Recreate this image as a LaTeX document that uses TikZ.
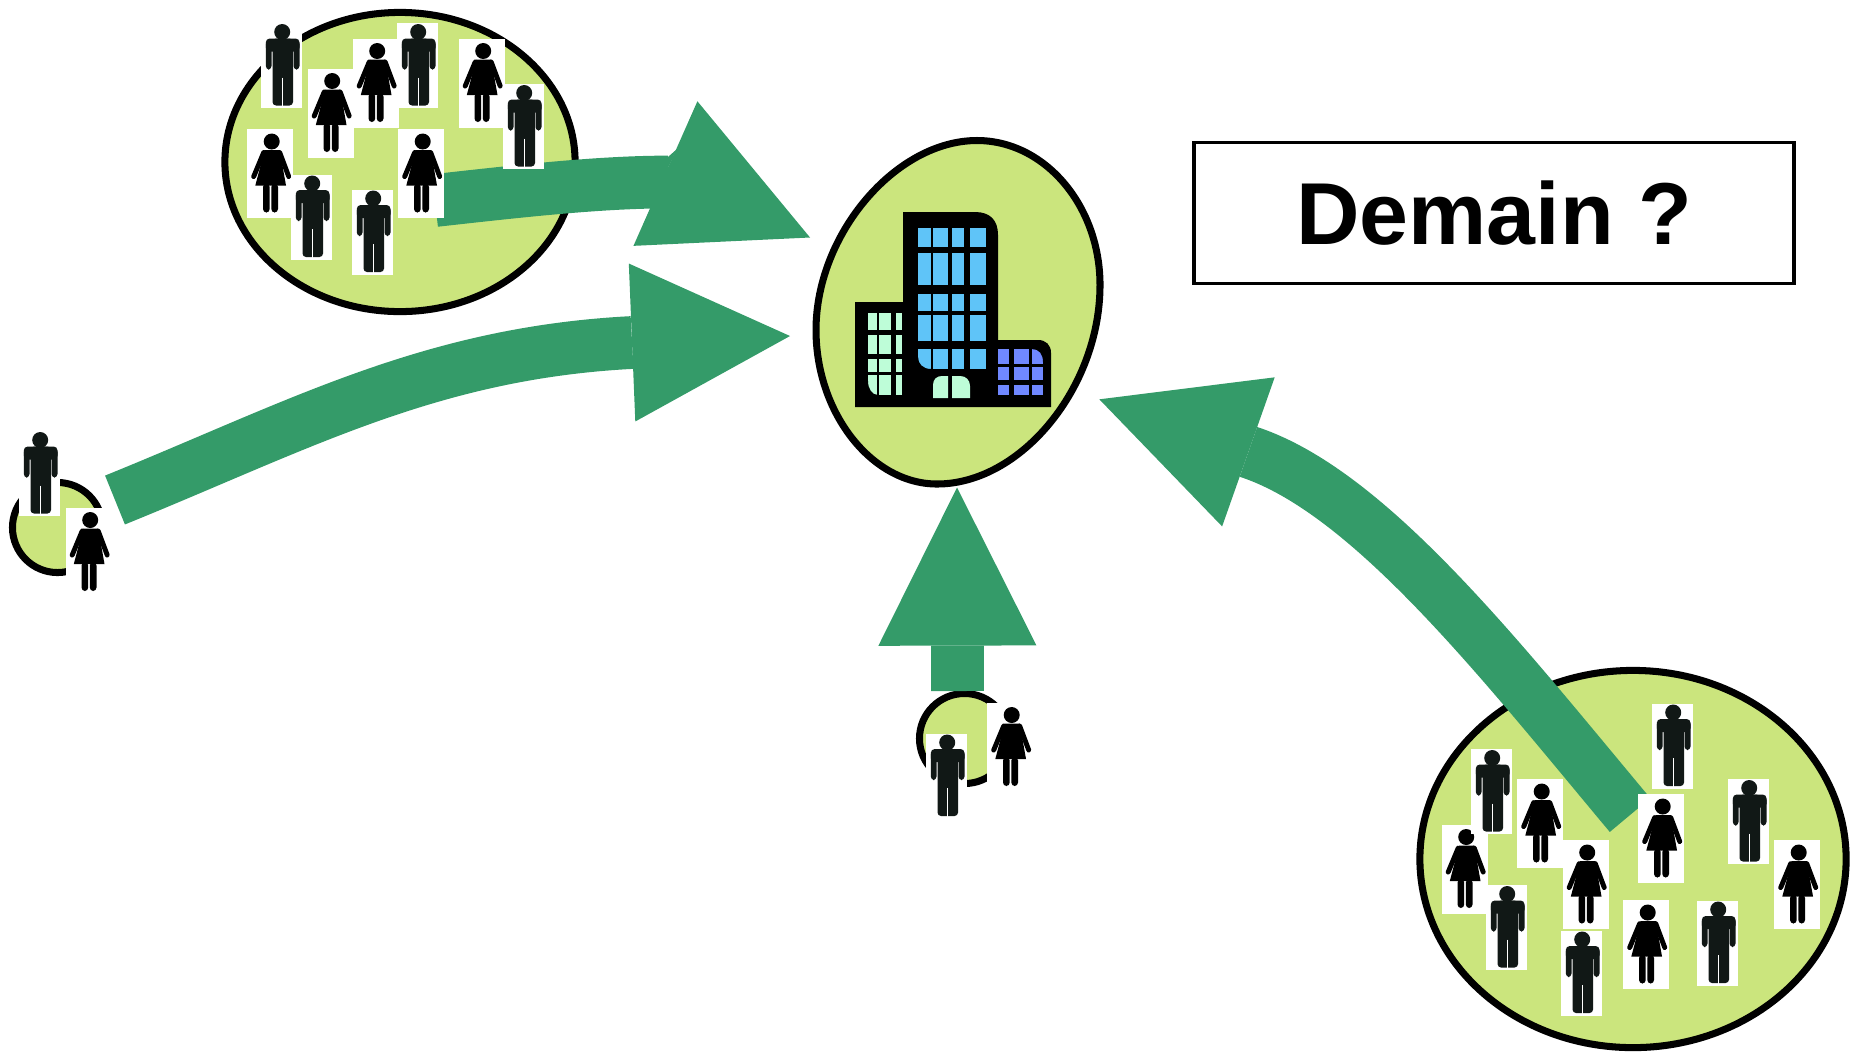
\documentclass[tikz,border=0pt]{standalone}
\usepackage{fontspec}
\setmainfont{Liberation Sans}
\usetikzlibrary{arrows.meta,calc,shapes.geometric}

\definecolor{grouplime}{RGB}{203,229,125}
\definecolor{flowgreen}{RGB}{52,155,105}
\definecolor{towerblue}{RGB}{95,196,248}
\definecolor{wingmint}{RGB}{190,253,216}
\definecolor{wingviolet}{RGB}{112,136,255}
\definecolor{mandark}{RGB}{17,24,22}

\tikzset{
  groupline/.style={draw=black,fill=grouplime,line width=2pt},
  groupnode/.style={groupline,ellipse,inner sep=0pt},
  flowarrow/.style={draw=flowgreen,line width=15pt,line join=bevel,-{Triangle[length=1.58cm,width=1.58cm,line width=0pt]}},
  manfig/.pic={
    \fill[white] (-20.5,-42.5) rectangle (20.5,42.5);
    \fill[mandark] (0.7,-33.5) circle [radius=8];
    \fill[mandark,rounded corners=1.1pt] (-15.7,-27) rectangle (18,-14);
    \fill[mandark,rounded corners=1pt] (-15.7,-25) rectangle (-10,4);
    \fill[mandark,rounded corners=1pt] (12,-25) rectangle (18,4);
    \fill[mandark,rounded corners=1pt] (-9,-27) rectangle (11.5,40);
    \draw[white,line width=0.35pt] (1.2,12) -- (1.2,41);
  },
  womanfig/.pic={
    \fill[white] (-23,-44.5) rectangle (23,44.5);
    \fill[black] (1.7,-32) circle [radius=8];
    \fill[black] (-5.3,-23.5) -- (9.7,-23.5) -- (16,12) -- (-14.7,12) -- cycle;
    \draw[black,line width=1.4pt,line cap=round] (-6.3,-21) -- (-16.3,3);
    \draw[black,line width=1.4pt,line cap=round] (9.7,-21) -- (18.7,3);
    \fill[black,rounded corners=1pt] (-7,10) rectangle (-0.3,39);
    \fill[black,rounded corners=1pt] (1.3,10) rectangle (8,39);
  }
}

\begin{document}
\begin{tikzpicture}[x=0.01cm,y=-0.01cm]
    \useasboundingbox (0,0) rectangle (1874,1060);

    \node[groupnode,minimum width=3.50cm,minimum height=2.99cm] (grouptop) at (400,162) {};
    \node[groupnode,minimum width=4.26cm,minimum height=3.77cm] (groupright) at (1633,859) {};
    \node[groupnode,circle,minimum size=0.90cm] (groupleft) at (57.5,527.5) {};
    \node[groupnode,circle,minimum size=0.90cm] (groupbottom) at (964.5,738.5) {};

    % the office blob is not quite an ellipse
    \coordinate (office) at (958,312);
    \draw[groupline] (977,140.5) .. controls (1044.7,140.5) and (1100,205.5) .. (1100,285)
      .. controls (1100,387.5) and (1021,484) .. (937,484)
      .. controls (871.7,484) and (816,413) .. (816,330)
      .. controls (816,234.3) and (895.7,140.5) .. cycle;

    \node[draw=black,line width=1pt,minimum width=6cm,minimum height=1.41cm,font=\fontsize{25}{30}\selectfont\bfseries] (question) at (1494,213) {Demain ?};

    % arrows towards the office
    \coordinate (topfoot) at ($ (grouptop) + (35,38.5) $);
    \coordinate (topjoin) at ($ (office) + (-290,-130) $);
    \coordinate (topneck) at ($ (office) + (-292.7,-138.5) $);
    \coordinate (toptip) at ($ (office) + (-148,-74.5) $);
    \draw[flowarrow] (topfoot) .. controls (520,191) and (600,182) .. (topjoin) -- (topneck) -- (toptip);

    \coordinate (leftfoot) at ($ (groupleft) + (57.5,-27.5) $);
    \coordinate (leftneck) at ($ (office) + (-326.2,30.5) $);
    \coordinate (lefttip) at ($ (office) + (-168,24) $);
    \draw[flowarrow] (leftfoot) .. controls (300,425) and (430,353) .. (leftneck) -- (lefttip);

    \coordinate (bottomfoot) at ($ (groupbottom) + (-7,-47.5) $);
    \coordinate (bottomtip) at ($ (office) + (-1,175.5) $);
    \draw[flowarrow] (bottomfoot) -- (bottomtip);

    \coordinate (rightfoot) at ($ (groupright) + (-3,-44) $);
    \coordinate (rightneck) at ($ (office) + (290.8,140) $);
    \coordinate (righttip) at ($ (office) + (141.3,87.3) $);
    \draw[flowarrow] (rightfoot) .. controls (1502,662) and (1370,492) .. (rightneck) -- (righttip);

    % building
    \fill[black] (855,407) -- (855,302) -- (903,302) -- (903,212) -- (975,212)
      .. controls (990,212) and (998,220) .. (998,235) -- (998,340) -- (1038,340)
      .. controls (1046,340) and (1051,345) .. (1051,353) -- (1051,407) -- cycle;
    \foreach \xa/\xb in {918/930.7,933/948,952/964,970/986} {
      \foreach \ya/\yb in {227.7/247,253/285,293.7/311,315/341,349/369} {
        \fill[towerblue] (\xa,\ya) rectangle (\xb,\yb);
      }
    }
    \foreach \xa/\xb in {868/877,879/891,896/902} {
      \foreach \ya/\yb in {313/330,335/354,359/372,375/395} {
        \fill[wingmint] (\xa,\ya) rectangle (\xb,\yb);
      }
    }
    \foreach \xa/\xb in {998/1009,1014/1029,1032/1043} {
      \foreach \ya/\yb in {349/364,367/380,385/395} {
        \fill[wingviolet] (\xa,\ya) rectangle (\xb,\yb);
      }
    }
    \fill[black] (918,357) .. controls (918,364) and (923,369) .. (931,369) -- (918,369) -- cycle;
    \fill[black] (868,381) .. controls (868,389) and (872,395) .. (878,395) -- (868,395) -- cycle;
    \fill[black] (1032,349) .. controls (1039,349) and (1043,354) .. (1043,362) -- (1043,349) -- cycle;
    \fill[wingmint] (933,398) -- (933,385) .. controls (933,379) and (937,376) .. (942,376) -- (948,376) -- (948,398) -- cycle;
    \fill[wingmint] (952,398) -- (952,376) -- (960,376) .. controls (966,376) and (970,380) .. (970,386) -- (970,398) -- cycle;

    % people
    \foreach \px/\py in {330.5/113,375.5/83,481.5/83,270/173.5,421/173.5,
      1540/823.5,1464.5/869,1585.5/884.5,1661/838.5,1646/944.5,1797/884.5,
      88.5/552,1010/747} {
      \pic at (\px,\py) {womanfig};
    }
    \foreach \px/\py in {281.5/65.5,417.5/65.5,523.5/126.5,311.5/217,372.5/232,
      1672.5/746,1491.5/791.5,1748.5/821.5,1506.5/927.5,1581.5/973,1717.5/943,
      39.5/473.5,946.5/776} {
      \pic at (\px,\py) {manfig};
    }
\end{tikzpicture}
\end{document}
